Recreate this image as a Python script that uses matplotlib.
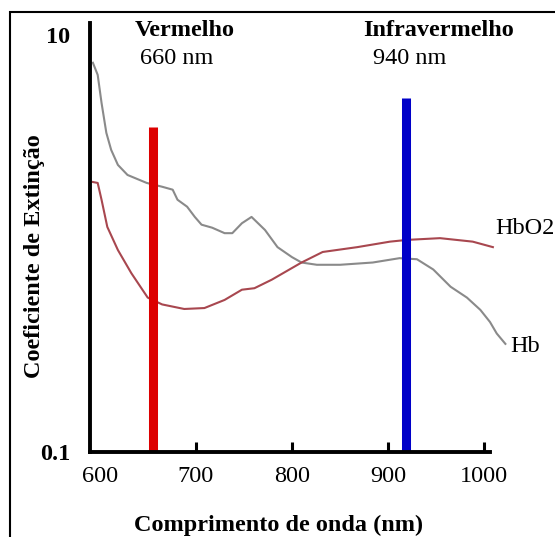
import numpy as np
import matplotlib.pyplot as plt
from matplotlib.patches import Rectangle

# absorption curves (wavelength in nm, extinction coefficient)
hb_nm = [593, 598, 602, 607, 612, 619, 629, 649, 665, 676, 681, 691, 699, 706, 717,
         730, 738, 748, 758, 772, 785, 800, 810, 826, 850, 884, 912, 930, 947, 965,
         982, 996, 1006, 1013, 1022]
hb_val = [7.35, 6.43, 4.72, 3.39, 2.81, 2.38, 2.13, 1.95, 1.87, 1.81, 1.62, 1.50, 1.34,
          1.23, 1.19, 1.12, 1.12, 1.25, 1.34, 1.16, 0.96, 0.86, 0.81, 0.79, 0.79, 0.81,
          0.85, 0.84, 0.75, 0.62, 0.55, 0.48, 0.42, 0.37, 0.33]

hbo2_nm = [593, 598, 602, 608, 619, 633, 650, 665, 688, 709, 730, 748, 761, 779, 793,
           810, 832, 868, 902, 920, 954, 988, 1009]
hbo2_val = [1.97, 1.95, 1.62, 1.20, 0.93, 0.72, 0.55, 0.51, 0.485, 0.49, 0.536, 0.60,
            0.61, 0.67, 0.73, 0.81, 0.91, 0.96, 1.02, 1.04, 1.06, 1.02, 0.96]

# LED markers
led_nm = [655, 919]
led_top = [3.6, 5.0]
led_colors = ['#dd0000', '#0000c8']

x_ticks = [600, 700, 800, 900, 1000]
y_ticks = [0.1, 10]
y_ticklabels = ['0.1', '10']

W, H = 555, 537
plt.rcParams['font.family'] = ['Liberation Serif', 'DejaVu Serif']

fig = plt.figure(figsize=(W / 100, H / 100), dpi=100)
ax = fig.add_axes([90 / W, 1 - 452 / H, 400 / W, 429 / H])

ax.plot(hb_nm, hb_val, color='#8a8a8a', lw=1.5, zorder=1.5, clip_on=False)
ax.plot(hbo2_nm, hbo2_val, color='#a8474f', lw=1.5, zorder=1.5, clip_on=False)
ax.vlines(led_nm, 0.1, led_top, colors=led_colors, lw=6.5, zorder=2)

ax.set_yscale('log')
ax.set_xlim(590, 1006)
ax.set_ylim(0.1, 11.4)
ax.yaxis.set_minor_locator(plt.NullLocator())
ax.set_yticks(y_ticks)
ax.set_yticklabels(y_ticklabels, fontsize=17.5, fontweight='bold')
ax.tick_params(axis='y', length=0, pad=14)
ax.set_xticks(x_ticks)
ax.set_xticklabels([str(t) for t in x_ticks], fontsize=17.5)
ax.tick_params(axis='x', direction='in', length=7, width=2.2, pad=10)
ax.xaxis.get_major_ticks()[0].tick1line.set_visible(False)

for s in ['top', 'right']:
    ax.spines[s].set_visible(False)
for s in ['left', 'bottom']:
    ax.spines[s].set_linewidth(2.8)
    ax.spines[s].set_capstyle('projecting')

fig.text(279 / W, 1 - 525 / H, 'Comprimento de onda (nm)', fontsize=17.5,
         fontweight='bold', ha='center', va='center')
fig.text(35 / W, 1 - 256 / H, 'Coeficiente de Extinção', fontsize=17.5,
         fontweight='bold', ha='center', va='center', rotation=90)

fig.text(185 / W, 1 - 30 / H, 'Vermelho', fontsize=17.5, fontweight='bold',
         ha='center', va='center')
fig.text(177 / W, 1 - 58 / H, '660 nm', fontsize=17.5, ha='center', va='center')
fig.text(439 / W, 1 - 31 / H, 'Infravermelho', fontsize=17.5, fontweight='bold',
         ha='center', va='center')
fig.text(410 / W, 1 - 59 / H, '940 nm', fontsize=17.5, ha='center', va='center')
fig.text(495 / W, 1 - 229 / H, 'HbO2', fontsize=17.5, ha='left', va='center')
fig.text(510 / W, 1 - 346 / H, 'Hb', fontsize=17.5, ha='left', va='center')

# outer frame
fig.add_artist(Rectangle((10 / W, -0.1), 1.2, 1.1 - 12 / H + 0.0,
                         transform=fig.transFigure, fill=False,
                         lw=1.5, edgecolor='black', clip_on=False))

plt.savefig('out.png', dpi=100)
